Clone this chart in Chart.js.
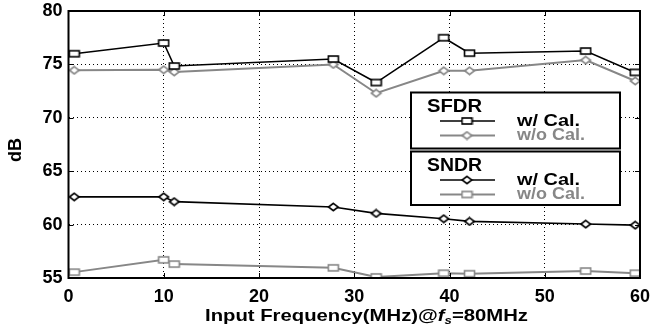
<!DOCTYPE html>
<html>
<head>
<meta charset="utf-8">
<script src="https://cdn.jsdelivr.net/npm/chart.js@4"></script>
<style>
  html, body { margin: 0; padding: 0; background: #fff; }
  #wrap { width: 654px; height: 329px; }
</style>
</head>
<body>
<div id="wrap"><canvas id="myChart" width="654" height="329"></canvas></div>
<script>
// data
const freqs = [0.6, 10, 11.1, 27.8, 32.3, 39.4, 42.1, 54.3, 59.5];
const sfdrCal = [76.0, 77.0, 74.85, 75.5, 73.3, 77.5, 76.05, 76.25, 74.25];
const sfdrNoCal = [74.45, 74.5, 74.3, 75.0, 72.3, 74.4, 74.4, 75.4, 73.45];
const sndrCal = [62.6, 62.6, 62.15, 61.65, 61.05, 60.55, 60.3, 60.05, 59.95];
const sndrNoCal = [55.55, 56.7, 56.3, 55.95, 55.1, 55.45, 55.4, 55.65, 55.45];
const xTicks = [0, 10, 20, 30, 40, 50, 60];
const yTicks = [55, 60, 65, 70, 75, 80];

const BLACK = "#000000";
const GRAY = "#878787";
const FONT = "'Liberation Sans', Arial, sans-serif";

//標記
function makeMarker(shape, color) {
  const c = document.createElement("canvas");
  c.width = 13;
  c.height = 10;
  const ctx = c.getContext("2d");
  ctx.strokeStyle = color;
  ctx.fillStyle = "#fff";
  ctx.lineWidth = 1.6;
  if (shape === "rect") {
    ctx.fillRect(1.5, 2, 10, 6);
    ctx.strokeRect(1.5, 2, 10, 6);
  } else {
    ctx.beginPath();
    ctx.moveTo(6.5, 1.3);
    ctx.lineTo(11.3, 5);
    ctx.lineTo(6.5, 8.7);
    ctx.lineTo(1.7, 5);
    ctx.closePath();
    ctx.fill();
    ctx.stroke();
  }
  return c;
}

const mRectBlack = makeMarker("rect", BLACK);
const mRectGray = makeMarker("rect", GRAY);
const mDiaBlack = makeMarker("dia", BLACK);
const mDiaGray = makeMarker("dia", GRAY);

function pts(ys) {
  return freqs.map((f, i) => ({ x: f, y: ys[i] }));
}

function series(label, ys, color, marker, width) {
  return {
    label: label,
    data: pts(ys),
    borderColor: color,
    backgroundColor: color,
    borderWidth: width,
    pointStyle: marker,
    pointRadius: 5,
    pointHoverRadius: 5,
    tension: 0,
  };
}

// 文字拉寬到指定寬度
function wideText(ctx, text, x, y, font, width) {
  ctx.font = font;
  const w = ctx.measureText(text).width;
  const sx = width ? width / w : 1;
  ctx.save();
  ctx.translate(x, y);
  ctx.scale(sx, 1);
  ctx.fillText(text, 0, 0);
  ctx.restore();
  return w * sx;
}

// 外框、刻度、圖例、標題
const framePlugin = {
  id: "frame",
  afterDraw(chart) {
    const ctx = chart.ctx;
    const a = chart.chartArea;
    ctx.save();
    ctx.strokeStyle = BLACK;
    ctx.lineWidth = 2;
    ctx.strokeRect(a.left, a.top, a.right - a.left, a.bottom - a.top);

    // inward ticks
    const xs = chart.scales.x;
    const ys = chart.scales.y;
    ctx.lineWidth = 1;
    xTicks.slice(1, -1).forEach((t) => {
      const px = Math.round(xs.getPixelForValue(t)) + 0.5;
      ctx.beginPath();
      ctx.moveTo(px, a.bottom);
      ctx.lineTo(px, a.bottom - 5);
      ctx.moveTo(px, a.top);
      ctx.lineTo(px, a.top + 5);
      ctx.stroke();
    });
    yTicks.slice(1, -1).forEach((t) => {
      const py = Math.round(ys.getPixelForValue(t)) + 0.5;
      ctx.beginPath();
      ctx.moveTo(a.left, py);
      ctx.lineTo(a.left + 5, py);
      ctx.moveTo(a.right, py);
      ctx.lineTo(a.right - 5, py);
      ctx.stroke();
    });

    // legend boxes
    const boxes = [
      { title: "SFDR", y: 92.5, h: 56, items: [[BLACK, mRectBlack, 1.6], [GRAY, mDiaGray, 2]] },
      { title: "SNDR", y: 151.5, h: 53.5, items: [[BLACK, mDiaBlack, 1.6], [GRAY, mRectGray, 2]] },
    ];
    const labels = ["w/ Cal.", "w/o Cal."];
    const labelW = [63, 68];
    boxes.forEach((b) => {
      ctx.fillStyle = "#fff";
      ctx.fillRect(411, b.y, 209, b.h);
      ctx.strokeStyle = BLACK;
      ctx.lineWidth = 2;
      ctx.strokeRect(411, b.y, 209, b.h);
      ctx.fillStyle = BLACK;
      ctx.textAlign = "left";
      ctx.textBaseline = "alphabetic";
      wideText(ctx, b.title, 427, b.y + 19.5, "bold 19px " + FONT, 55);
      b.items.forEach((it, i) => {
        const ly = b.y + 28.5 + i * 14.5;
        ctx.strokeStyle = it[0];
        ctx.lineWidth = it[2];
        ctx.beginPath();
        ctx.moveTo(440, ly);
        ctx.lineTo(495, ly);
        ctx.stroke();
        ctx.drawImage(it[1], 467 - it[1].width / 2, ly - it[1].height / 2);
        ctx.fillStyle = it[0];
        wideText(ctx, labels[i], 517, ly + 4.5, "bold 17px " + FONT, labelW[i]);
      });
    });

    // axis titles
    ctx.fillStyle = BLACK;
    ctx.textAlign = "left";
    const p1 = "Input Frequency(MHz)@";
    const p3 = "=80MHz";
    const fBold = "bold 17px " + FONT;
    const fItal = "italic bold 17px " + FONT;
    const sSub = "italic bold 11px " + FONT;
    ctx.font = fBold;
    const w1 = ctx.measureText(p1).width;
    const w3 = ctx.measureText(p3).width;
    ctx.font = fItal;
    const wf = ctx.measureText("f").width;
    ctx.font = sSub;
    const ws = ctx.measureText("s").width;
    const total = w1 + wf + ws + w3;
    const sx = 323 / total;
    const by = 321;
    ctx.save();
    ctx.translate(205, by);
    ctx.scale(sx, 1);
    let x0 = 0;
    ctx.font = fBold;
    ctx.fillText(p1, x0, 0);
    x0 += w1;
    ctx.font = fItal;
    ctx.fillText("f", x0, 0);
    x0 += wf;
    ctx.font = sSub;
    ctx.fillText("s", x0, 3);
    x0 += ws;
    ctx.font = fBold;
    ctx.fillText(p3, x0, 0);
    ctx.restore();

    ctx.translate(16, 150);
    ctx.rotate(-Math.PI / 2);
    ctx.textAlign = "center";
    ctx.textBaseline = "middle";
    ctx.font = "bold 18px " + FONT;
    ctx.fillText("dB", 0, 0);
    ctx.restore();
  },
};

loadchart();
function loadchart() {
  const data = {
    datasets: [
      series("SFDR w/ Cal.", sfdrCal, BLACK, mRectBlack, 1.6),
      series("SFDR w/o Cal.", sfdrNoCal, GRAY, mDiaGray, 2),
      series("SNDR w/ Cal.", sndrCal, BLACK, mDiaBlack, 1.6),
      series("SNDR w/o Cal.", sndrNoCal, GRAY, mRectGray, 2),
    ],
  };

  const config = {
    type: "line",
    data: data,
    options: {
      responsive: false,
      animation: false,
      events: [],
      layout: { padding: { left: 0, top: 11, right: 14, bottom: 0 } },
      plugins: { legend: { display: false }, tooltip: { enabled: false } },
      scales: {
        x: {
          type: "linear",
          min: 0,
          max: 60,
          afterFit(s) {
            s.height = 51;
            s.paddingLeft = 0;
            s.paddingRight = 0;
          },
          afterBuildTicks(s) { s.ticks = xTicks.map((v) => ({ value: v })); },
          grid: { color: BLACK, lineWidth: 1, drawTicks: false },
          border: { display: false, dash: [1, 3] },
          ticks: {
            padding: 8,
            color: BLACK,
            font: { family: FONT, size: 18, weight: "bold" },
          },
        },
        y: {
          min: 55,
          max: 80,
          afterFit(s) {
            s.width = 68.5;
            s.paddingTop = 0;
            s.paddingBottom = 0;
          },
          afterBuildTicks(s) { s.ticks = yTicks.map((v) => ({ value: v })); },
          grid: { color: BLACK, lineWidth: 1, drawTicks: false },
          border: { display: false, dash: [1, 3] },
          ticks: {
            padding: 6,
            color: BLACK,
            font: { family: FONT, size: 18, weight: "bold" },
          },
        },
      },
    },
    plugins: [framePlugin],
  };
  const myChart = new Chart(document.getElementById("myChart"), config);
}
</script>
</body>
</html>
